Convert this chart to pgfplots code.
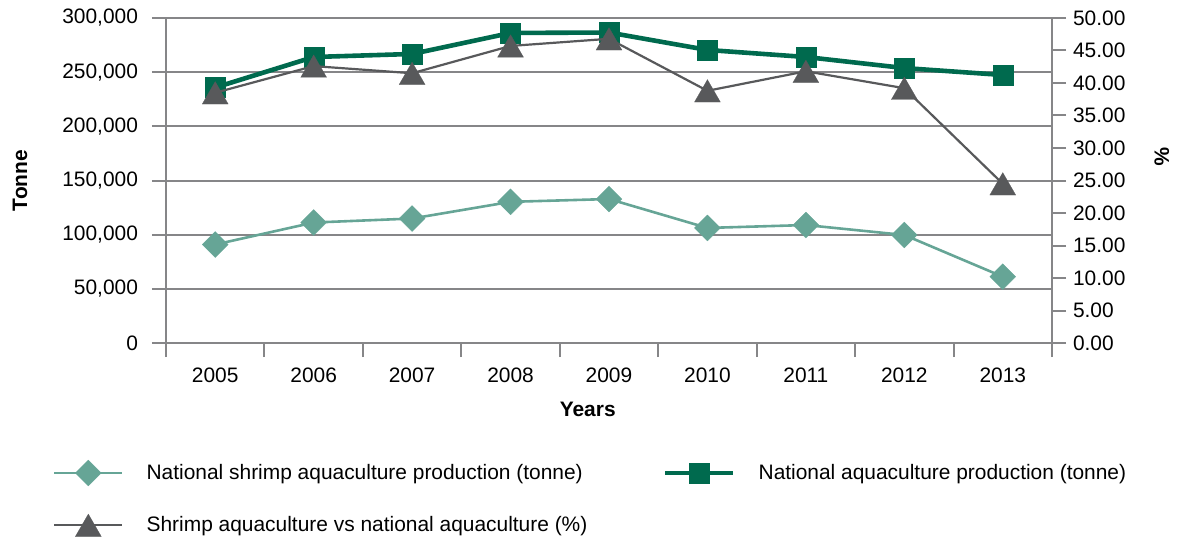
\documentclass[border=0pt]{standalone}
\usepackage{fontspec}
\setmainfont{Liberation Sans}
\usepackage{pgfplots}
\pgfplotsset{compat=1.18}
\definecolor{shrimpc}{RGB}{102,165,150}
\definecolor{natc}{RGB}{0,106,78}
\definecolor{pctc}{RGB}{88,89,91}
\definecolor{axgray}{RGB}{134,134,136}
\pgfplotsset{
  myaxis/.style={
    scale only axis, width=443bp, height=162.5bp,
    xmin=-0.5, xmax=8.5,
    tick align=outside, major tick length=7bp,
    axis line style={draw=axgray, line width=1bp},
    every tick/.style={draw=axgray, line width=1bp},
    tick label style={font=\fontsize{10.5}{12}\selectfont},
    label style={font=\fontsize{10.5}{12}\selectfont\bfseries},
    /pgf/number format/assume math mode=true,
    legend style={draw=none, fill=none, inner sep=0pt, outer sep=0pt,
      font=\fontsize{10.5}{12}\selectfont,
      nodes={inner sep=0pt, outer sep=0pt}},
    legend cell align=left,
    legend image code/.code={
      \draw[mark repeat=2, mark phase=2, #1] plot coordinates {(0bp,0bp) (17bp,0bp) (34bp,0bp)};},
  },
  shrimpst/.style={color=shrimpc, line width=1.3bp, mark=square*, mark size=4.6bp,
     mark options={rotate=45, solid, line width=0.1bp}},
  natst/.style={color=natc, line width=2.3bp, mark=square*, mark size=5bp,
     mark options={solid, line width=0.1bp}},
  pctst/.style={color=pctc, line width=1.1bp, mark=triangle*, mark size=7.5bp,
     mark options={solid, yshift=-1.9bp, line width=0.1bp}},
}
\begin{document}
\begin{tikzpicture}
\begin{axis}[myaxis,
  ymin=0, ymax=300000, ytick={0,50000,...,300000},
  scaled y ticks=false,
  yticklabel style={xshift=-3.5bp, /pgf/number format/.cd, fixed, 1000 sep={,}},
  axis x line*=bottom, axis y line*=left,
  ymajorgrids, grid style={draw=axgray, line width=1bp},
  xtick={-0.5,0.5,...,8.5}, xticklabels={},
  extra x ticks={0,1,2,3,4,5,6,7,8},
  extra x tick labels={2005,2006,2007,2008,2009,2010,2011,2012,2013},
  extra x tick style={major tick length=0pt, xticklabel style={yshift=-9bp}},
  ylabel={Tonne},
  ylabel style={at={(axis description cs:-0.1648,0.5)}, anchor=center},
  xlabel={Years},
  xlabel style={at={(axis description cs:0.476,-0.203)}, anchor=center},
  legend style={at={(axis description cs:-0.1275,-0.36)}, anchor=north west, row sep=14bp,
    /tikz/every odd column/.append style={column sep=11.5bp}},
]
\addplot[shrimpst] coordinates {
  (0,90900) (1,111200) (2,114900) (3,130300) (4,132900)
  (5,106200) (6,108900) (7,99700) (8,61200)};
\addlegendentry{National shrimp aquaculture production (tonne)}
\addplot[natst, forget plot] coordinates {
  (0,235800) (1,264000) (2,266800) (3,286200) (4,286600)
  (5,270500) (6,264000) (7,253800) (8,247400)};
\addlegendimage{pctst}
\addlegendentry{Shrimp aquaculture vs national aquaculture (\%)}
\end{axis}
\begin{axis}[myaxis,
  ymin=0, ymax=50, ytick={0,5,...,50},
  axis y line*=right, axis x line=none,
  yticklabel style={/pgf/number format/.cd, fixed, fixed zerofill, precision=2},
  ylabel={\%},
  ylabel style={at={(axis description cs:1.124,0.572)}, anchor=center, rotate=180},
  legend style={at={(axis description cs:0.561,-0.4)}, anchor=west,
    /tikz/every odd column/.append style={column sep=11.5bp}},
]
\addplot[pctst, forget plot] coordinates {
  (0,38.5) (1,42.6) (2,41.5) (3,45.7) (4,46.8)
  (5,38.8) (6,41.8) (7,39.2) (8,24.5)};
\addlegendimage{natst}
\addlegendentry{National aquaculture production (tonne)}
\end{axis}
\pgfresetboundingbox
\path[use as bounding box] (-83bp,-99bp) rectangle (506.5bp,171.5bp);
\end{tikzpicture}
\end{document}
